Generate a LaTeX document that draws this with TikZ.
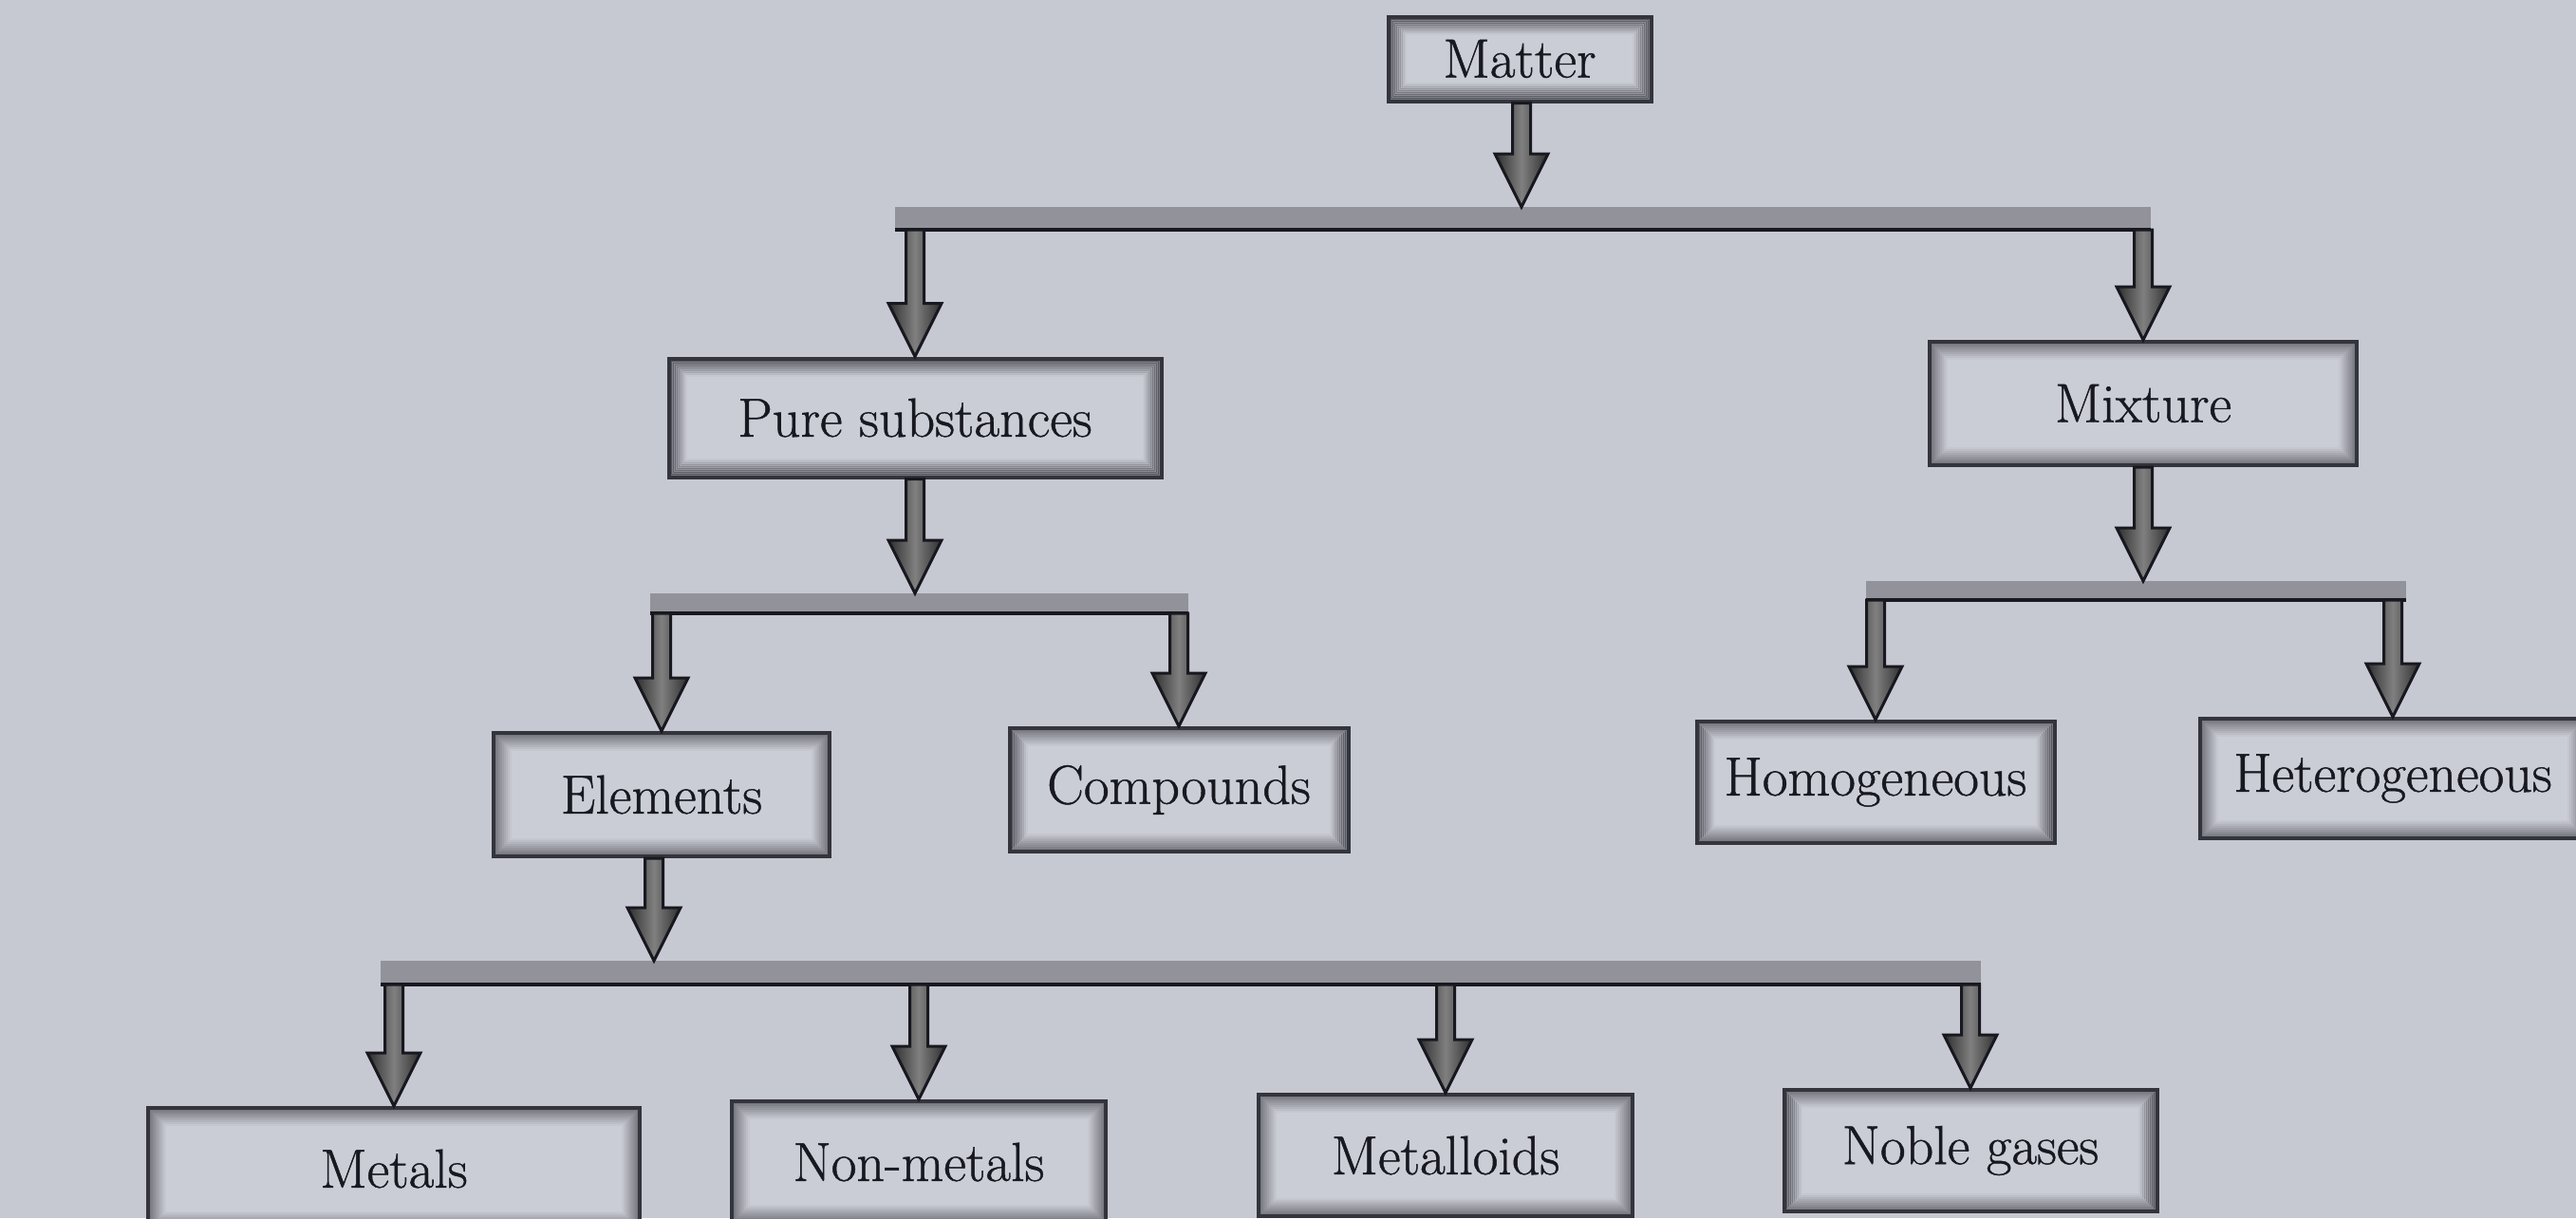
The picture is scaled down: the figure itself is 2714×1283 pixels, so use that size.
\documentclass[tikz,border=0pt]{standalone}
\usepackage{fontspec}
\usepackage{tikz}
\usetikzlibrary{calc}

\newfontfamily\boxfont{Latin Modern Roman}[FakeBold=0.8]

\definecolor{paper}{RGB}{198,200,210}
\definecolor{boxfill}{RGB}{203,205,214}
\definecolor{boxedge}{RGB}{52,52,60}
\definecolor{inkdark}{RGB}{24,24,32}
\definecolor{bandgrey}{RGB}{146,147,154}

\tikzset{
  catbox/.style={draw=boxedge, line width=0.4mm, fill=boxfill, inner sep=0pt,
    minimum height=1.28cm, text=inkdark, font=\boxfont\fontsize{16.5}{20}\selectfont,
    path picture={
      \foreach \i in {1,...,9}
        \draw[boxedge, draw opacity=0.62-0.065*\i, line width=0.25mm]
          ([xshift=\i*0.2mm,yshift=\i*0.2mm]path picture bounding box.south west) rectangle
          ([xshift=-\i*0.2mm,yshift=-\i*0.2mm]path picture bounding box.north east);
    }},
  barband/.style={fill=bandgrey},
  barline/.style={draw=inkdark, line width=0.4mm},
  blockarr/.style={draw=inkdark, line width=0.3mm, line join=miter,
    top color=black!82, bottom color=black!82, middle color=black!50, shading angle=90},
}

% block arrow: starts at the height of #1, ends with its tip on #2
\newcommand{\blockarrow}[2]{%
  \path[blockarr] let \p1=(#1), \p2=(#2) in
    (\x2-0.95mm,\y1) -- (\x2-0.95mm,\y2+5.6mm) -- (\x2-2.8mm,\y2+5.6mm)
    -- (\x2,\y2) -- (\x2+2.8mm,\y2+5.6mm) -- (\x2+0.95mm,\y2+5.6mm)
    -- (\x2+0.95mm,\y1) -- cycle;}

\begin{document}
\begin{tikzpicture}[x=0.1mm, y=-0.1mm]
  % page
  \fill[paper] (0,0) rectangle (2714,1283);
  \useasboundingbox (0,0) rectangle (2714,1283);
  \clip (0,0) rectangle (2714,1283);

  % boxes
  \node[catbox, minimum width=2.77cm, minimum height=0.89cm] (matter) at (1601,62) {Matter};
  \node[catbox, minimum width=5.19cm, minimum height=1.25cm] (pure) at (964,440) {Pure substances};
  \node[catbox, minimum width=4.50cm, minimum height=1.30cm] (mixture) at (2258,425) {Mixture};
  \node[catbox, minimum width=3.54cm, minimum height=1.30cm] (elements) at (697,837) {Elements};
  \node[catbox, minimum width=3.57cm, minimum height=1.30cm] (compounds) at (1242,832) {Compounds};
  \node[catbox, minimum width=3.77cm] (homo) at (1976,824) {Homogeneous};
  \node[catbox, minimum width=4.06cm, minimum height=1.26cm] (hetero) at (2521,820) {Heterogeneous};
  \node[catbox, minimum width=5.18cm] (metals) at (415,1231) {Metals};
  \node[catbox, minimum width=3.94cm] (nonmetals) at (968,1224) {Non-metals};
  \node[catbox, minimum width=3.94cm] (metalloids) at (1523,1217) {Metalloids};
  \node[catbox, minimum width=3.93cm] (noble) at (2076,1212) {Noble gases};

  % bars
  \coordinate (top-in) at (1603,218);
  \coordinate (top-w) at (943,242);
  \coordinate (top-e) at (2266,242);
  \fill[barband] (943,218) rectangle (2266,240);
  \draw[barline] (top-w) -- (top-e);

  \coordinate (ps-in) at (964,625);
  \coordinate (ps-w) at (685,646);
  \coordinate (ps-e) at (1252,646);
  \fill[barband] (685,625) rectangle (1252,644);
  \draw[barline] (ps-w) -- (ps-e);

  \coordinate (mx-in) at (2258,612);
  \coordinate (mx-w) at (1966,632);
  \coordinate (mx-e) at (2535,632);
  \fill[barband] (1966,612) rectangle (2535,630);
  \draw[barline] (mx-w) -- (mx-e);

  \coordinate (el-in) at (689,1012);
  \coordinate (el-w) at (401,1037);
  \coordinate (el-e) at (2087,1037);
  \fill[barband] (401,1012) rectangle (2087,1035);
  \draw[barline] (el-w) -- (el-e);

  % arrows
  \blockarrow{matter.south}{top-in}
  \blockarrow{top-w}{pure.north}
  \blockarrow{top-e}{mixture.north}
  \blockarrow{pure.south}{ps-in}
  \blockarrow{ps-w}{elements.north}
  \blockarrow{ps-e}{compounds.north}
  \blockarrow{mixture.south}{mx-in}
  \blockarrow{mx-w}{homo.north}
  \blockarrow{mx-e}{hetero.north}
  \blockarrow{elements.south}{el-in}
  \blockarrow{el-w}{metals.north}
  \blockarrow{el-w}{nonmetals.north}
  \blockarrow{el-w}{metalloids.north}
  \blockarrow{el-w}{noble.north}
\end{tikzpicture}
\end{document}
